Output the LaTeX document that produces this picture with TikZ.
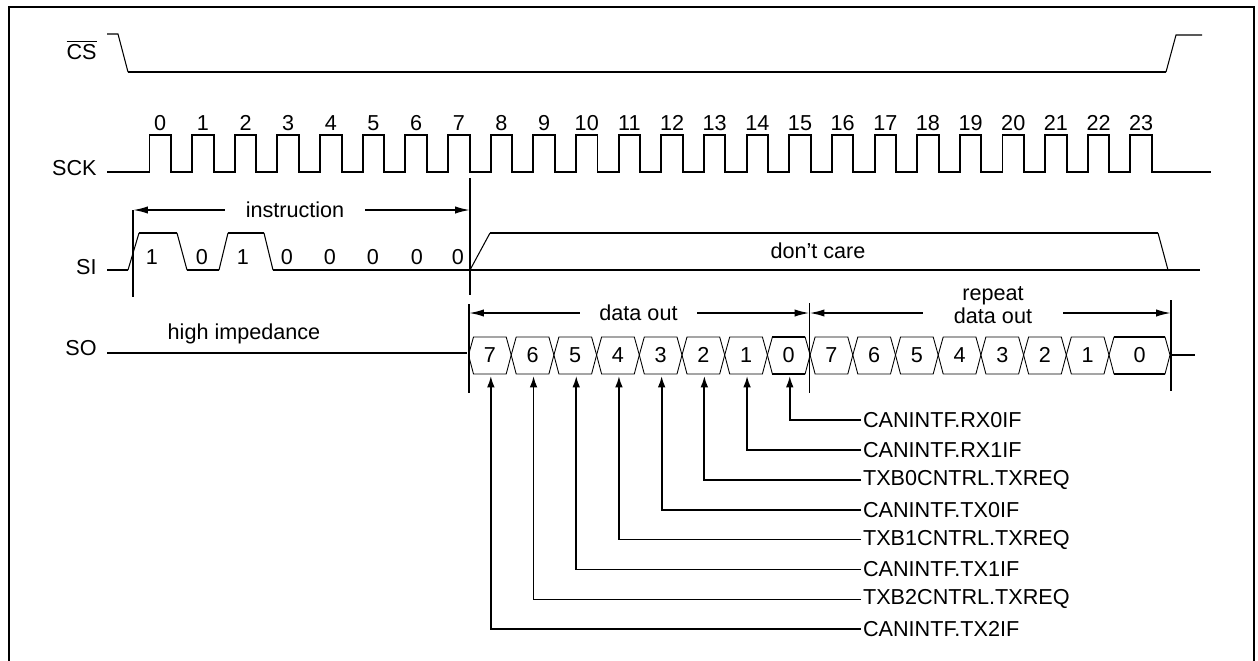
\documentclass[tikz,border=0pt]{standalone}
\usepackage{fontspec}
\setmainfont{Liberation Sans}
\usetikzlibrary{arrows.meta, calc}

\tikzset{
  sig/.style={line width=1.1pt},
  slope/.style={line width=0.6pt},
  hexcell/.style={line width=0.5pt},
  marker/.style={line width=1.1pt},
  dimhalf/.style={line width=1pt, -{Latex[length=8.5pt,width=4.2pt]}},
  flagarr/.style={line width=1pt, -{Latex[length=6.5pt,width=4.4pt]}},
  txt/.style={font=\fontsize{12.3}{13.5}\selectfont, inner sep=0pt},
  flag/.style={txt, anchor=west, inner xsep=1pt},
}

\begin{document}
\begin{tikzpicture}[x=0.02cm, y=-0.02cm]
    \useasboundingbox (0,0) rectangle (1258,660);
    % frame
    \draw[line width=1.1pt] (9,670) -- (9,7) -- (1254,7) -- (1254,670);
    % signal names
    \node[txt, anchor=east] (cs)  at (97,50)  {$\overline{\hbox{CS}}$};
    \node[txt, anchor=east] (sck) at (97,168) {SCK};
    \node[txt, anchor=east] (si)  at (97,267) {SI};
    \node[txt, anchor=east] (so)  at (97,348) {SO};
    % CS
    \draw[slope] (107,34) -- (118,34) -- (128,72);
    \draw[sig] (128,72) -- (1166,72);
    \draw[slope] (1166,72) -- (1176,35) -- (1202,35);
    % SCK
    \draw[sig] (107,172) \foreach \i in {0,...,23} {
       -- ({149.5+42.65*\i},172) -- ++(0,-37) -- ++(21.5,0) -- ++(0,37)
     } -- (1211,172);
    \foreach \i in {0,...,23} {
     \node[txt] (ck\i) at ({160.25+42.65*\i},123) {\i};
    }
    % SI
    \draw[sig] (107,270) -- (128,270);
    \draw[slope] (128,270) -- (139,233);
    \draw[sig] (139,233) -- (177,233);
    \draw[slope] (177,233) -- (187,270);
    \draw[sig] (187,270) -- (219,270);
    \draw[slope] (219,270) -- (228,233);
    \draw[sig] (228,233) -- (264,233);
    \draw[slope] (264,233) -- (273,270);
    \draw[sig] (273,270) -- (1200,270);
    \draw[slope] (470,270) -- (490,233);
    \draw[sig] (490,233) -- (1158,233);
    \draw[slope] (1158,233) -- (1168,270);
    \foreach \x/\v [count=\n] in {152/1,202/0,243/1,287/0,330/0,373/0,417/0,458/0} {
     \node[txt] (sib\n) at (\x,257) {\v};
    }
    \node[txt] (dc) at (818,251) {don’t care};
    % SO
    \draw[sig] (107,353) -- (467,353);
    \node[txt] (hiz) at (244,334) {high impedance};
    \foreach \k in {0,...,15} {
     \pgfmathsetmacro\xa{468.5+42.7*\k}
     \pgfmathsetmacro\xb{\k==15 ? 1170 : 468.5+42.7*(\k+1)}
     \pgfmathtruncatemacro\d{mod(15-\k,8)}
     \draw[hexcell] (\xa,355) -- (\xa+5,337) -- (\xb-5,337) -- (\xb,355) -- (\xb-5,374) -- (\xa+5,374) -- cycle;
     \node[txt] (bit\k) at ({(\xa+\xb)/2},355) {\d};
    }
    \foreach \xa/\xb in {767.4/810.1, 1109/1170} {
     \draw[sig] (\xa+5,337) -- (\xb-5,337) (\xa+5,374) -- (\xb-5,374);
    }
    \draw[sig] (1170,355) -- (1195,355);
    % markers
    \draw[marker] (133,210) -- (133,297);
    \draw[marker] (470,178) -- (470,295);
    \draw[marker] (469,304) -- (469,393);
    \draw[marker] (809.5,303) -- (809.5,393);
    \draw[marker] (1171,300) -- (1171,391);
    \coordinate (mi0) at (133,210);
    \coordinate (mi1) at (470,210);
    \coordinate (md0) at (469,313);
    \coordinate (md1) at (809.5,313);
    \coordinate (mr0) at (809.5,313);
    \coordinate (mr1) at (1171,313);
    % dimension arrows
    \node[txt, inner xsep=11.8pt] (instr) at (295,210) {instruction};
    \draw[dimhalf] (instr.west) -- (mi0);
    \draw[dimhalf] (instr.east) -- (mi1);
    \node[txt, inner xsep=11pt] (dout) at (638.5,313) {data out};
    \draw[dimhalf] (dout.west) -- (md0);
    \draw[dimhalf] (dout.east) -- (md1);
    \node[txt, inner xsep=17.5pt, align=center] (rep) at (993,305) {repeat\\data out};
    \draw[dimhalf] (rep.west |- mr0) -- (mr0);
    \draw[dimhalf] (rep.east |- mr1) -- (mr1);
    % register bits
    \foreach \b/\t in {0/CANINTF.RX0IF, 1/CANINTF.RX1IF, 2/TXB0CNTRL.TXREQ, 3/CANINTF.TX0IF,
                       4/TXB1CNTRL.TXREQ, 5/CANINTF.TX1IF, 6/TXB2CNTRL.TXREQ, 7/CANINTF.TX2IF} {
     \node[flag] (fl\b) at (861,{420+29.9*\b}) {\t};
     \coordinate (up\b) at ({468.5+42.7*(7-\b)+22.35},376);
     \draw[flagarr] (fl\b.west) -| (up\b);
    }
\end{tikzpicture}
\end{document}
